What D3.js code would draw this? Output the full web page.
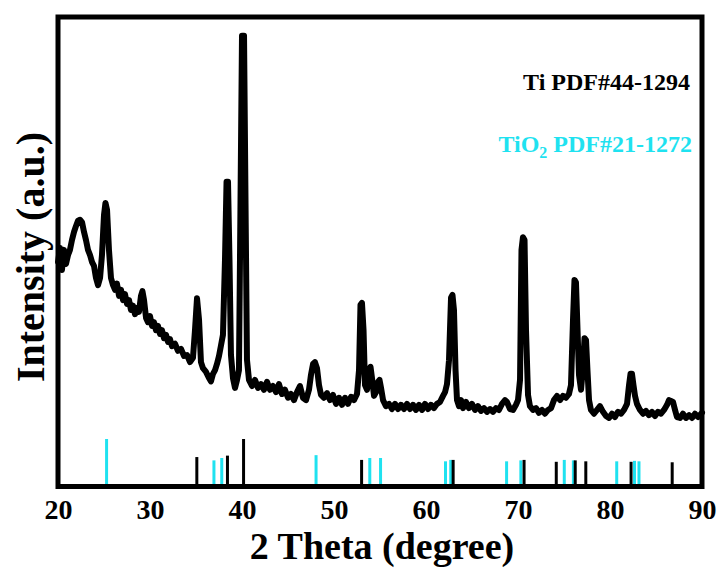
<!DOCTYPE html>
<html>
<head>
<meta charset="UTF-8">
<title>XRD</title>
<script src="https://d3js.org/d3.v7.min.js"></script>
<style>
  body { margin: 0; background: #fff; }
  text { font-family: "Liberation Serif", "Times New Roman", serif; font-weight: bold; }
</style>
</head>
<body>
<div id="chart"></div>
<script>
// measured pattern: 2theta (degree) and intensity (a.u.)
var twoTheta = [20.00,20.22,20.43,20.65,20.87,21.09,21.30,21.52,21.74,21.96,22.17,22.39,22.61,22.83,23.04,23.26,23.48,23.70,23.91,24.13,24.35,24.57,24.78,25.00,25.16,25.33,25.54,25.76,25.98,26.20,26.41,26.63,26.85,27.07,27.28,27.50,27.72,27.93,28.15,28.37,28.59,28.80,29.02,29.18,29.35,29.57,29.78,30.00,30.22,30.43,30.65,30.87,31.09,31.30,31.52,31.74,31.96,32.17,32.39,32.72,33.04,33.37,33.70,34.02,34.35,34.67,34.89,35.11,35.33,35.54,35.76,36.09,36.41,36.63,36.85,37.07,37.28,37.50,37.72,37.93,38.15,38.32,38.48,38.64,38.80,39.02,39.24,39.46,39.67,39.84,40.00,40.22,40.38,40.54,40.76,41.09,41.41,41.74,42.07,42.39,42.72,43.04,43.37,43.70,44.02,44.35,44.67,45.00,45.33,45.65,45.98,46.30,46.63,46.96,47.28,47.50,47.72,47.93,48.15,48.37,48.59,48.91,49.24,49.57,49.89,50.22,50.54,50.87,51.20,51.52,51.85,52.17,52.50,52.72,52.88,53.04,53.21,53.37,53.59,53.80,53.97,54.13,54.35,54.57,54.78,54.95,55.11,55.33,55.65,55.98,56.30,56.63,56.96,57.28,57.61,57.93,58.26,58.59,58.91,59.24,59.57,59.89,60.22,60.54,60.87,61.20,61.52,61.85,62.07,62.28,62.50,62.72,62.88,63.04,63.21,63.37,63.59,63.80,64.02,64.35,64.67,65.00,65.33,65.65,65.98,66.30,66.63,66.96,67.28,67.61,67.93,68.26,68.59,68.80,69.13,69.46,69.78,70.00,70.22,70.38,70.54,70.71,70.87,71.09,71.30,71.63,71.96,72.28,72.61,72.93,73.26,73.59,73.91,74.24,74.57,74.89,75.22,75.54,75.76,75.98,76.14,76.30,76.47,76.63,76.85,77.07,77.23,77.39,77.55,77.72,77.93,78.26,78.59,78.91,79.24,79.57,79.89,80.22,80.54,80.87,81.20,81.52,81.85,82.07,82.23,82.39,82.55,82.72,82.93,83.26,83.59,83.91,84.24,84.57,84.89,85.22,85.54,85.87,86.20,86.41,86.63,86.85,87.07,87.28,87.61,87.93,88.26,88.59,88.91,89.24,89.57,90.00];
var intensity = [478,508,461,504,474,493,504,525,542,555,566,568,563,542,525,504,493,478,470,444,429,444,493,578,604,589,504,444,429,419,432,406,419,397,410,389,397,376,385,367,380,372,406,416,397,359,350,363,342,350,333,342,325,333,316,323,308,314,299,304,289,293,278,280,265,274,333,401,355,265,252,244,231,224,240,248,261,278,301,323,482,649,649,482,280,231,210,227,248,610,960,960,610,270,227,214,227,210,218,206,223,206,214,201,218,197,206,189,197,184,201,214,189,184,206,238,261,265,252,216,195,189,199,184,195,176,189,174,189,176,191,184,197,248,387,391,333,216,206,248,255,231,193,201,223,227,210,184,171,176,165,176,165,174,165,176,165,174,163,174,163,176,165,174,167,176,180,193,201,218,269,402,408,376,248,184,171,184,167,180,167,176,163,171,161,167,159,165,159,167,163,176,184,180,165,163,174,184,227,504,531,525,333,195,171,163,167,157,163,155,163,167,184,193,184,193,189,197,216,355,440,435,333,238,206,255,316,312,248,184,163,155,163,171,159,150,146,155,148,159,155,163,176,216,240,240,216,193,176,163,155,161,152,159,150,159,155,163,174,184,182,180,163,148,146,155,146,152,146,155,148,157];

// reference cards (relative stick heights)
var tiPeaks = [35.09,38.42,40.17,53.00,62.95,70.66,74.16,76.22,77.37,82.29,86.76];
var tiHeights = [62,65,100,56,56,56,52,55,53,52,51];
var tio2Peaks = [25.28,36.95,37.80,48.05,53.89,55.06,62.12,62.69,68.76,70.31,75.03,76.02,80.73,82.66,83.15];
var tio2Heights = [100,55,60,66,60,60,53,56,53,55,56,55,53,54,53];

var xTicks = [20,30,40,50,60,70,80,90];

var W = 722, H = 574;
var padL = 58, padR = 702, padT = 17, padB = 486.5;
var cyan = "#1fe2f0";

var svg = d3.select("#chart").append("svg").attr("width", W).attr("height", H);

var x = d3.scaleLinear().domain([20, 90]).range([padL, padR]);
var y = d3.scaleLinear().domain([0, 1000]).range([padB, padT]);
var stickH = d3.scaleLinear().domain([0, 100]).range([0, 47.5]);

var pts = twoTheta.map(function (t, i) { return [t, intensity[i]]; });

var line = d3.line()
  .x(function (d) { return x(d[0]); })
  .y(function (d) { return y(d[1]); });

svg.append("path")
  .datum(pts)
  .attr("d", line)
  .attr("fill", "none")
  .attr("stroke", "#000")
  .attr("stroke-width", 6)
  .attr("stroke-linejoin", "round")
  .attr("stroke-linecap", "round");

function sticks(pos, hts, color) {
  svg.append("g").selectAll("line")
    .data(pos)
    .enter().append("line")
    .attr("x1", function (d) { return x(d); })
    .attr("x2", function (d) { return x(d); })
    .attr("y1", padB)
    .attr("y2", function (d, i) { return padB - stickH(hts[i]); })
    .attr("stroke", color)
    .attr("stroke-width", 3);
}
sticks(tio2Peaks, tio2Heights, cyan);
sticks(tiPeaks, tiHeights, "#000");

// frame
svg.append("rect")
  .attr("x", padL).attr("y", padT)
  .attr("width", padR - padL).attr("height", padB - padT)
  .attr("fill", "none").attr("stroke", "#000").attr("stroke-width", 5);

var xAxis = svg.append("g")
  .attr("transform", "translate(0," + padB + ")")
  .call(d3.axisBottom(x).tickValues(xTicks).tickSize(0).tickPadding(13));
xAxis.select(".domain").remove();
xAxis.selectAll("text")
  .attr("font-family", "Liberation Serif")
  .attr("font-weight", "bold")
  .attr("font-size", 28)
  .attr("fill", "#000");

svg.append("text")
  .attr("x", (padL + padR) / 2 + 2).attr("y", 559)
  .attr("text-anchor", "middle")
  .attr("font-size", 38)
  .text("2 Theta (degree)");

svg.append("text")
  .attr("transform", "translate(44,257) rotate(-90)")
  .attr("text-anchor", "middle")
  .attr("font-size", 40)
  .text("Intensity (a.u.)");

svg.append("text")
  .attr("x", 690).attr("y", 90)
  .attr("text-anchor", "end")
  .attr("font-size", 24)
  .attr("fill", "#000")
  .text("Ti PDF#44-1294");

var leg2 = svg.append("text")
  .attr("x", 692).attr("y", 152)
  .attr("text-anchor", "end")
  .attr("font-size", 24)
  .attr("fill", cyan);
leg2.append("tspan").text("TiO");
leg2.append("tspan").attr("font-size", 16).attr("dy", 6).text("2");
leg2.append("tspan").attr("dy", -6).text(" PDF#21-1272");
</script>
</body>
</html>
